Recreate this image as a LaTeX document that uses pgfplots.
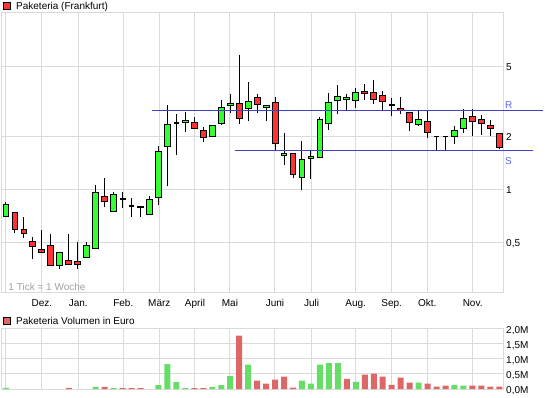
\documentclass[border=0pt]{standalone}
\usepackage{pgfplots}
\pgfplotsset{compat=1.18}
\usepackage{fontspec}
\setmainfont{Liberation Sans}

\definecolor{gridc}{RGB}{218,218,218}
\definecolor{cgreen}{RGB}{51,255,51}
\definecolor{cred}{RGB}{255,51,51}
\definecolor{vgreen}{RGB}{102,221,102}
\definecolor{vred}{RGB}{221,102,102}
\definecolor{rsline}{RGB}{64,64,200}
\definecolor{rslabel}{RGB}{100,100,255}
\definecolor{notec}{RGB}{160,160,160}

\pgfplotsset{
  chartbase/.style={
    scale only axis, anchor=south west,
    xmin=-0.446, xmax=55.41,
    axis line style={draw=gridc, line width=1pt},
    grid=major, major grid style={draw=gridc, line width=1pt},
    tick style={draw=none}, major tick length=0pt, minor tick length=0pt,
    xtick={0,4.01,8.06,13.08,17.09,21.07,24.97,29.99,34.08,38.99,43.0,46.97,52.03},
    yticklabel pos=right,
    tick label style={font=\fontsize{10}{12}\selectfont, inner sep=0pt},
    yticklabel style={anchor=base west, xshift=3pt, yshift=-4.3pt},
    /pgf/number format/assume math mode=true,
  }
}

\begin{document}
\begin{tikzpicture}[font=\fontsize{10}{12}\selectfont]
\useasboundingbox (0pt,0pt) rectangle (545pt,398pt);

% titles
\filldraw[fill=cred, draw=black, line width=0.8pt] (3.5pt,388.5pt) rectangle (10.5pt,395.5pt);
\node[anchor=base west, inner sep=0pt] at (16pt,388pt) {Paketeria (Frankfurt)};
\filldraw[fill=vred, draw=black, line width=0.8pt] (3.5pt,73.5pt) rectangle (10.5pt,80.5pt);
\node[anchor=base west, inner sep=0pt] at (16pt,73pt) {Paketeria Volumen in Euro};

% price chart
\begin{axis}[chartbase, at={(2pt,105pt)}, width=501pt, height=280pt,
  ymode=log, ymin=0.258, ymax=10,
  ytick={0.5,1,2,5}, yticklabels={{0,5},1,2,5},
  xticklabels={{},Dez.,Jan.,Feb.,März,April,Mai,Juni,Juli,Aug.,Sep.,Okt.,Nov.},
  xticklabel style={anchor=base, yshift=-13.5pt},
  unbounded coords=jump, clip=false]
% wicks (low, high)
\addplot[black, line width=1pt] coordinates {
(0,0.692) (0,0.846) (0,nan) (1,0.564) (1,0.742) (1,nan) (2,0.532) (2,0.695) (2,nan)
(3,0.401) (3,0.535) (3,nan) (4,0.440) (4,0.589) (4,nan) (5,0.371) (5,0.559) (5,nan)
(6,0.352) (6,0.440) (6,nan) (7,0.376) (7,0.559) (7,nan) (8,0.352) (8,0.503) (8,nan)
(9,0.412) (9,0.503) (9,nan) (10,0.463) (10,1.054) (10,nan) (11,0.792) (11,1.158) (11,nan)
(12,0.752) (12,0.964) (12,nan) (13,0.782) (13,0.964) (13,nan) (14,0.695) (14,0.891) (14,nan)
(15,0.695) (15,0.803) (15,nan) (16,0.723) (16,0.915) (16,nan) (17,0.813) (17,1.760) (17,nan)
(18,1.043) (18,3.021) (18,nan) (19,1.564) (19,2.675) (19,nan) (20,2.113) (20,2.756) (20,nan)
(21,2.198) (21,2.582) (21,nan) (22,1.854) (22,2.256) (22,nan) (23,1.980) (23,2.316) (23,nan)
(24,2.316) (24,3.213) (24,nan) (25,2.710) (25,3.475) (25,nan) (26,2.347) (26,5.788) (26,nan)
(27,2.440) (27,4.066) (27,nan) (28,2.710) (28,3.475) (28,nan) (29,2.440) (29,3.009) (29,nan)
(30,1.670) (30,3.342) (30,nan) (31,1.372) (31,2.086) (31,nan) (32,1.158) (32,1.606) (32,nan)
(33,0.990) (33,1.879) (33,nan) (34,1.143) (34,1.648) (34,nan) (35,1.524) (35,2.572) (35,nan)
(36,2.170) (36,3.521) (36,nan) (37,2.675) (37,3.908) (37,nan) (38,2.818) (38,3.475) (38,nan)
(39,2.893) (39,3.758) (39,nan) (40,3.213) (40,3.960) (40,nan) (41,3.049) (41,4.173) (41,nan)
(42,2.782) (42,3.614) (42,nan) (43,2.592) (43,3.298) (43,nan) (44,2.675) (44,3.342) (44,nan)
(45,2.130) (45,2.710) (45,nan) (46,2.274) (46,2.782) (46,nan) (47,1.954) (47,2.782) (47,nan)
(48,1.648) (48,1.988) (48,nan) (49,1.670) (49,1.988) (49,nan) (50,1.802) (50,2.286) (50,nan)
(51,2.086) (51,2.855) (51,nan) (52,1.995) (52,2.855) (52,nan) (53,2.032) (53,2.640) (53,nan)
(54,1.995) (54,2.473) (54,nan) (55,1.683) (55,2.059)};
% falling bodies (open, close)
\addplot[draw=black, fill=cred, line width=1pt, line cap=rect] coordinates {
(0.675,0.742) (1.325,0.742) (1.325,0.594) (0.675,0.594) (0.675,0.742) (1,nan)
(1.675,0.594) (2.325,0.594) (2.325,0.564) (1.675,0.564) (1.675,0.594) (2,nan)
(2.675,0.508) (3.325,0.508) (3.325,0.476) (2.675,0.476) (2.675,0.508) (3,nan)
(3.675,0.453) (4.325,0.453) (4.325,0.440) (3.675,0.440) (3.675,0.453) (4,nan)
(4.675,0.482) (5.325,0.482) (5.325,0.371) (4.675,0.371) (4.675,0.482) (5,nan)
(6.675,0.396) (7.325,0.396) (7.325,0.376) (6.675,0.376) (6.675,0.396) (7,nan)
(7.675,0.391) (8.325,0.391) (8.325,0.376) (7.675,0.376) (7.675,0.391) (8,nan)
(10.675,0.915) (11.325,0.915) (11.325,0.857) (10.675,0.857) (10.675,0.915) (11,nan)
(14.675,0.803) (15.325,0.803) (15.325,0.790) (14.675,0.790) (14.675,0.803) (15,nan)
(20.675,2.377) (21.325,2.377) (21.325,2.198) (20.675,2.198) (20.675,2.377) (21,nan)
(21.675,2.141) (22.325,2.141) (22.325,1.954) (21.675,1.954) (21.675,2.141) (22,nan)
(25.675,3.049) (26.325,3.049) (26.325,2.506) (25.675,2.506) (25.675,3.049) (26,nan)
(27.675,3.298) (28.325,3.298) (28.325,3.009) (27.675,3.009) (27.675,3.298) (28,nan)
(29.675,3.089) (30.325,3.089) (30.325,1.830) (29.675,1.830) (29.675,3.089) (30,nan)
(31.675,1.606) (32.325,1.606) (32.325,1.220) (31.675,1.220) (31.675,1.606) (32,nan)
(39.675,3.567) (40.325,3.567) (40.325,3.475) (39.675,3.475) (39.675,3.567) (40,nan)
(40.675,3.521) (41.325,3.521) (41.325,3.213) (40.675,3.213) (40.675,3.521) (41,nan)
(41.675,3.385) (42.325,3.385) (42.325,3.130) (41.675,3.130) (41.675,3.385) (42,nan)
(43.675,2.855) (44.325,2.855) (44.325,2.782) (43.675,2.782) (43.675,2.855) (44,nan)
(44.675,2.710) (45.325,2.710) (45.325,2.377) (44.675,2.377) (44.675,2.710) (45,nan)
(46.675,2.408) (47.325,2.408) (47.325,2.113) (46.675,2.113) (46.675,2.408) (47,nan)
(51.675,2.572) (52.325,2.572) (52.325,2.408) (51.675,2.408) (51.675,2.572) (52,nan)
(52.675,2.473) (53.325,2.473) (53.325,2.347) (52.675,2.347) (52.675,2.473) (53,nan)
(53.675,2.286) (54.325,2.286) (54.325,2.198) (53.675,2.198) (53.675,2.286) (54,nan)
(54.675,2.059) (55.325,2.059) (55.325,1.715) (54.675,1.715) (54.675,2.059)};
% rising bodies (close, open)
\addplot[draw=black, fill=cgreen, line width=1pt, line cap=rect] coordinates {
(-0.325,0.824) (0.325,0.824) (0.325,0.701) (-0.325,0.701) (-0.325,0.824) (0,nan)
(5.675,0.440) (6.325,0.440) (6.325,0.371) (5.675,0.371) (5.675,0.440) (6,nan)
(8.675,0.482) (9.325,0.482) (9.325,0.412) (8.675,0.412) (8.675,0.482) (9,nan)
(9.675,0.964) (10.325,0.964) (10.325,0.463) (9.675,0.463) (9.675,0.964) (10,nan)
(11.675,0.939) (12.325,0.939) (12.325,0.752) (11.675,0.752) (11.675,0.939) (12,nan)
(15.675,0.880) (16.325,0.880) (16.325,0.723) (15.675,0.723) (15.675,0.880) (16,nan)
(16.675,1.648) (17.325,1.648) (17.325,0.903) (16.675,0.903) (16.675,1.648) (17,nan)
(17.675,2.316) (18.325,2.316) (18.325,1.760) (17.675,1.760) (17.675,2.316) (18,nan)
(19.675,2.440) (20.325,2.440) (20.325,2.377) (19.675,2.377) (19.675,2.440) (20,nan)
(22.675,2.286) (23.325,2.286) (23.325,2.005) (22.675,2.005) (22.675,2.286) (23,nan)
(23.675,2.893) (24.325,2.893) (24.325,2.347) (23.675,2.347) (23.675,2.893) (24,nan)
(24.675,3.049) (25.325,3.049) (25.325,2.970) (24.675,2.970) (24.675,3.049) (25,nan)
(26.675,3.130) (27.325,3.130) (27.325,2.855) (26.675,2.855) (26.675,3.130) (27,nan)
(28.675,2.970) (29.325,2.970) (29.325,2.893) (28.675,2.893) (28.675,2.970) (29,nan)
(30.675,1.606) (31.325,1.606) (31.325,1.564) (30.675,1.564) (30.675,1.606) (31,nan)
(32.675,1.484) (33.325,1.484) (33.325,1.173) (32.675,1.173) (32.675,1.484) (33,nan)
(33.675,1.544) (34.325,1.544) (34.325,1.504) (33.675,1.504) (33.675,1.544) (34,nan)
(34.675,2.473) (35.325,2.473) (35.325,1.524) (34.675,1.524) (34.675,2.473) (35,nan)
(35.675,3.089) (36.325,3.089) (36.325,2.347) (35.675,2.347) (35.675,3.089) (36,nan)
(36.675,3.342) (37.325,3.342) (37.325,3.171) (36.675,3.171) (36.675,3.342) (37,nan)
(37.675,3.298) (38.325,3.298) (38.325,3.213) (37.675,3.213) (37.675,3.298) (38,nan)
(38.675,3.521) (39.325,3.521) (39.325,3.171) (38.675,3.171) (38.675,3.521) (39,nan)
(45.675,2.473) (46.325,2.473) (46.325,2.316) (45.675,2.316) (45.675,2.473) (46,nan)
(49.675,2.141) (50.325,2.141) (50.325,2.005) (49.675,2.005) (49.675,2.141) (50,nan)
(50.675,2.506) (51.325,2.506) (51.325,2.198) (50.675,2.198) (50.675,2.506)};
% unchanged weeks (open = close)
\addplot[black, line width=1.2pt] coordinates {
(12.675,0.880) (13.325,0.880) (13,nan) (13.675,0.803) (14.325,0.803) (14,nan)
(18.675,2.377) (19.325,2.377) (19,nan) (42.675,3.009) (43.325,3.009) (43,nan)
(47.675,1.988) (48.325,1.988) (48,nan) (48.675,1.988) (49.325,1.988)};
% resistance / support
\addplot[rsline, line width=1pt] coordinates {(16.28,2.78) (59.87,2.78)};
\addplot[rsline, line width=1pt] coordinates {(25.53,1.67) (58.72,1.67)};
\node[anchor=base west, inner sep=0pt, text=rslabel, yshift=3pt] at (axis cs:55.63,2.78) {R};
\node[anchor=base west, inner sep=0pt, text=rslabel, yshift=-14.7pt] at (axis cs:55.63,1.67) {S};
\end{axis}
\node[anchor=base west, inner sep=0pt, text=notec] at (8.3pt,107.3pt) {1 Tick = 1 Woche};

% volume chart
\begin{axis}[chartbase, at={(2pt,9pt)}, width=501pt, height=60pt,
  ymin=0, ymax=2,
  ytick={0,0.5,1,1.5,2}, yticklabels={{0,0M},{0,5M},{1,0M},{1,5M},{2,0M}},
  xticklabels={}]
\addplot[ybar, bar width=6pt, bar shift=0pt, fill=vgreen, draw=none] coordinates {
(0,0.035) (10,0.067) (12,0.033) (17,0.133) (18,0.83) (19,0.233) (20,0.033)
(23,0.067) (24,0.133) (25,0.433) (27,0.81) (33,0.28) (34,0.18) (35,0.81)
(36,0.86) (37,0.86) (39,0.24) (46,0.21) (50,0.14) (51,0.11)};
\addplot[ybar, bar width=6pt, bar shift=0pt, fill=vred, draw=none] coordinates {
(7,0.04) (11,0.067) (13,0.033) (14,0.033) (15,0.033) (21,0.033) (22,0.033)
(26,1.78) (28,0.28) (29,0.18) (30,0.31) (31,0.41) (32,0.044) (38,0.34)
(40,0.48) (41,0.51) (42,0.41) (43,0.14) (44,0.38) (45,0.21) (47,0.18)
(48,0.08) (49,0.11) (52,0.11) (53,0.11) (54,0.08) (55,0.08)};
\end{axis}
\end{tikzpicture}
\end{document}
